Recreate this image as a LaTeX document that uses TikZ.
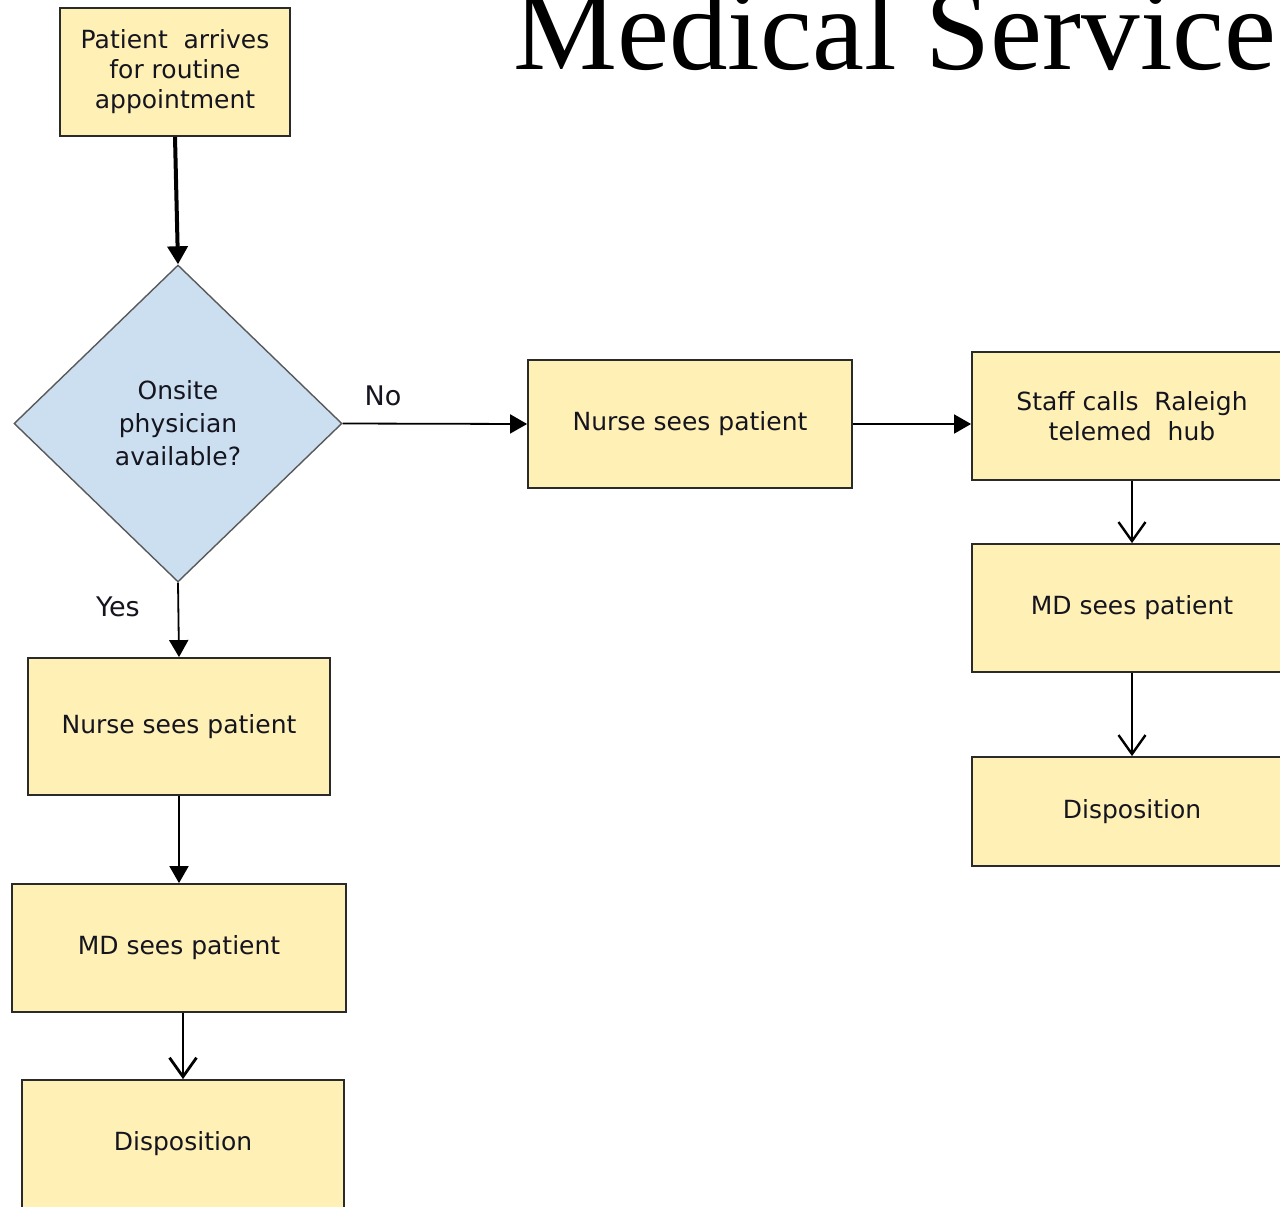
\documentclass[tikz,border=0pt]{standalone}
\usepackage{fontspec}
\setmainfont{DejaVu Sans}
\newfontfamily\titlefont{Liberation Serif}
\usetikzlibrary{shapes.geometric,arrows.meta}
\definecolor{boxfill}{HTML}{FFF0B5}
\definecolor{diafill}{HTML}{CCDFF0}
\definecolor{boxline}{HTML}{2A2A2A}
\definecolor{txt}{HTML}{15151F}
\tikzset{
  procbox/.style={draw=boxline, line width=1.8pt, fill=boxfill, rectangle, inner sep=0pt,
    align=center, text=txt, font=\fontsize{25}{30}\selectfont},
  decision/.style={draw=black!65, line width=1.4pt, fill=diafill, diamond, inner sep=0pt,
    align=center, text=txt, font=\fontsize{25}{33}\selectfont,
    minimum width=328pt, minimum height=317pt, shape aspect=1.035},
  solidarrow/.style={draw=black, line width=1.8pt, -{Triangle[length=17pt,width=19pt]}},
  openarrow/.style={draw=black, line width=2.4pt, -{Straight Barb[length=19pt,width=27pt]}},
  branchlbl/.style={text=txt, font=\fontsize{27}{30}\selectfont},
}
\begin{document}
\begin{tikzpicture}[x=1pt,y=-1pt]
\useasboundingbox (0,0) rectangle (1280,1207);
\clip (0,0) rectangle (1280,1207);
\fill[white] (0,0) rectangle (1280,1207);

\node[anchor=base west, inner sep=0pt, font=\titlefont\fontsize{117}{120}\selectfont] (title) at (513,70) {Medical Service};

\node[procbox, minimum width=230pt, minimum height=128pt] (arrive) at (175,72) {Patient\ \ arrives\\for routine\\appointment};
\node[decision] (dia) at (178,423.5) {Onsite\\physician\\available?};

\node[procbox, minimum width=324pt, minimum height=128pt] (nurseR) at (690,424) {Nurse sees patient};
\node[procbox, minimum width=320pt, minimum height=128pt] (staff) at (1132,416) {Staff calls\ \ Raleigh\\telemed\ \ hub};
\node[procbox, minimum width=320pt, minimum height=128pt] (mdR) at (1132,608) {MD sees patient};
\node[procbox, minimum width=320pt, minimum height=109pt] (dispR) at (1132,811.5) {Disposition};

\node[procbox, minimum width=302pt, minimum height=137pt] (nurseL) at (179,726.5) {Nurse sees patient};
\node[procbox, minimum width=334pt, minimum height=128pt] (mdL) at (179,948) {MD sees patient};
\node[procbox, minimum width=322pt, minimum height=128pt] (dispL) at (183,1144) {Disposition};

\node[branchlbl] (nolbl) at (383,396) {No};
\node[branchlbl] (yeslbl) at (118,607) {Yes};

\draw[draw=black, line width=4pt, -{Triangle[length=18pt,width=20pt]}] (arrive.south) -- (dia.north);
\draw[solidarrow] (dia.east) -- (nurseR.west);
\draw[solidarrow] (nurseR.east) -- (nurseR.east -| staff.west);
\draw[openarrow] (staff.south) -- (mdR.north);
\draw[openarrow] (mdR.south) -- (dispR.north);
\draw[solidarrow] (dia.south) -- (nurseL.north);
\draw[solidarrow] (nurseL.south) -- (mdL.north);
\draw[openarrow, line width=2.8pt] (mdL.south -| dispL.north) -- (dispL.north);
\end{tikzpicture}
\end{document}
